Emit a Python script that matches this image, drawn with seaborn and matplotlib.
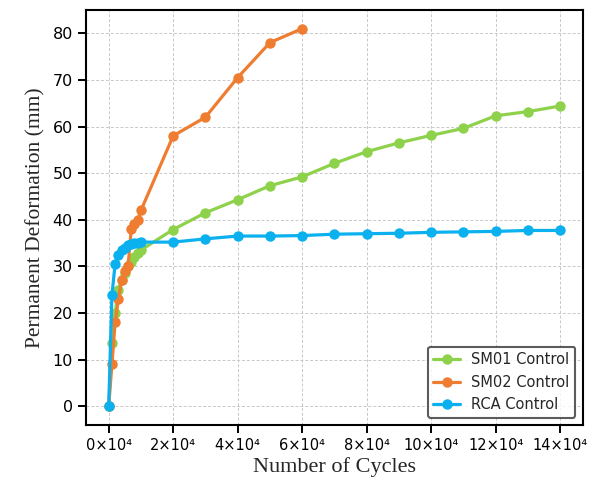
import pandas as pd
import seaborn as sns
import matplotlib.pyplot as plt
from matplotlib.ticker import FuncFormatter

# cycles / permanent deformation (mm)
sm01_cycles = [0, 1000, 2000, 3000, 4000, 5000, 6000, 7000, 8000, 9000, 10000,
               20000, 30000, 40000, 50000, 60000, 70000, 80000, 90000, 100000,
               110000, 120000, 130000, 140000]
sm01_def = [0, 13.5, 20, 25, 27, 28.5, 30, 31, 32, 32.8, 33.5,
            37.9, 41.5, 44.3, 47.3, 49.2, 52.1, 54.6, 56.5, 58.1,
            59.6, 62.3, 63.2, 64.4]

sm02_cycles = [0, 1000, 2000, 3000, 4000, 5000, 6000, 7000, 8000, 9000, 10000,
               20000, 30000, 40000, 50000, 60000]
sm02_def = [0, 9, 18, 23, 27, 29, 30, 38, 39, 40, 42,
            58, 62, 70.5, 78, 81]

rca_cycles = [0, 1000, 2000, 3000, 4000, 5000, 6000, 7000, 8000, 9000, 10000,
              20000, 30000, 40000, 50000, 60000, 70000, 80000, 90000, 100000,
              110000, 120000, 130000, 140000]
rca_def = [0, 23.8, 30.6, 32.5, 33.4, 34, 34.5, 34.8, 35, 35.1, 35.2,
           35.2, 35.9, 36.5, 36.5, 36.6, 36.9, 37, 37.1, 37.3,
           37.4, 37.5, 37.7, 37.7]

series = ["SM01 Control", "SM02 Control", "RCA Control"]
colors = ["#8ed14b", "#ef7d31", "#0bb0ee"]

df = pd.concat([
    pd.DataFrame({"cycles": sm01_cycles, "deformation": sm01_def, "series": series[0]}),
    pd.DataFrame({"cycles": sm02_cycles, "deformation": sm02_def, "series": series[1]}),
    pd.DataFrame({"cycles": rca_cycles, "deformation": rca_def, "series": series[2]}),
])

sns.set_style("ticks")
plt.rcParams["font.family"] = "DejaVu Sans"

fig, ax = plt.subplots(figsize=(5.94, 4.88), dpi=100)
fig.subplots_adjust(left=0.145, right=0.981, top=0.98, bottom=0.129)

sns.lineplot(data=df, x="cycles", y="deformation", hue="series",
             hue_order=series, palette=dict(zip(series, colors)),
             marker="o", markersize=7.5, markeredgewidth=0, linewidth=2.3,
             errorbar=None, sort=False, ax=ax)

ax.grid(True, linestyle=(0, (3, 2)), color="#c8c8c8", linewidth=0.7)
ax.set_axisbelow(True)
ax.set_xticks(range(0, 140001, 20000))
ax.set_yticks(range(0, 81, 10))
ax.xaxis.set_major_formatter(FuncFormatter(lambda v, p: f"{int(round(v / 1e4))}×10⁴"))
ax.tick_params(labelsize=11.5, length=6, width=1.4, colors="black")
ax.tick_params(axis="x", labelsize=10.5)
for s in ax.spines.values():
    s.set_linewidth(1.5)
    s.set_color("black")

ax.set_xlabel("Number of Cycles", fontfamily="Liberation Serif", fontsize=16, labelpad=3)
ax.set_ylabel("Permanent Deformation (mm)", fontfamily="Liberation Serif", fontsize=15.5, labelpad=5)

leg = ax.legend(loc="lower right", fontsize=10.5, frameon=True, fancybox=True,
                handlelength=1.8)
leg.get_frame().set_edgecolor("#333333")
leg.get_frame().set_linewidth(1.5)

fig.savefig("out.png", dpi=100)
